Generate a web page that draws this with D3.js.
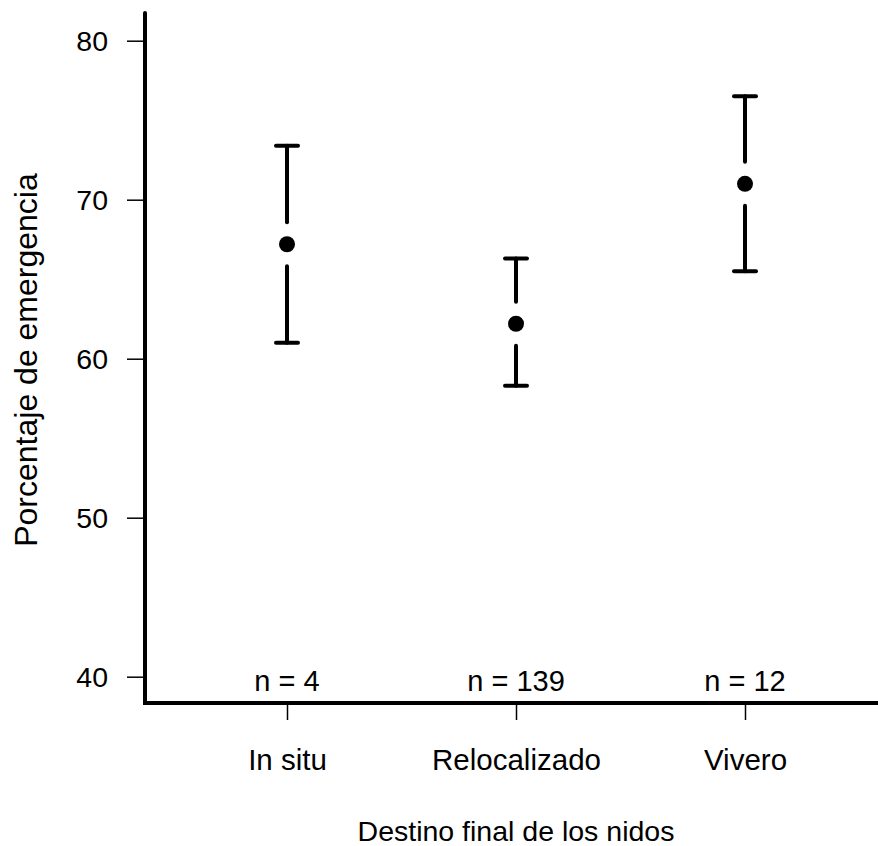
<!DOCTYPE html>
<html>
<head>
<meta charset="utf-8">
<script src="https://cdn.jsdelivr.net/npm/d3@7"></script>
<style>
  html, body { margin: 0; padding: 0; background: #fff; }
  svg text { font-family: "Liberation Sans", Arial, Helvetica, sans-serif; fill: #000; }
</style>
</head>
<body>
<svg id="chart" width="878" height="846"></svg>
<script>
// Emergence percentage by final nest destination: mean with interval
const categories = ["In situ", "Relocalizado", "Vivero"];
const means = [67.2, 62.2, 71.0];
const upper = [73.4, 66.3, 76.5];
const lower = [61.0, 58.3, 65.5];
const sampleSizes = [4, 139, 12];
const yTicks = [40, 50, 60, 70, 80];

const svg = d3.select("#chart");

// Plot frame (left and bottom axis lines)
const frame = { left: 145, right: 878, top: 13, bottom: 703 };

const y = d3.scaleLinear().domain([40, 80]).range([676.7, 40.7]);
const x = d3.scaleLinear().domain([1, 3]).range([287, 745]);
const xi = i => x(i + 1);

// y axis ticks and labels
const yAxis = d3.axisLeft(y).tickValues(yTicks).tickSize(18).tickPadding(19).tickFormat(d3.format("d"));
const gy = svg.append("g").attr("transform", `translate(${frame.left},0)`).call(yAxis);
gy.select(".domain").remove();
gy.selectAll(".tick line").attr("stroke", "#000").attr("stroke-width", 1.5);
gy.selectAll(".tick text")
  .attr("font-size", 28.5)
  .attr("font-family", "Liberation Sans, Arial, sans-serif")
  .attr("fill", "#000")
  .attr("dy", "0.36em");

// x axis ticks and category labels
const xAxis = d3.axisBottom(x).tickValues([1, 2, 3]).tickSize(17).tickPadding(29)
  .tickFormat(d => categories[d - 1]);
const gx = svg.append("g").attr("transform", `translate(0,${frame.bottom})`).call(xAxis);
gx.select(".domain").remove();
gx.selectAll(".tick line").attr("stroke", "#000").attr("stroke-width", 1.5);
gx.selectAll(".tick text")
  .attr("font-size", 29.5)
  .attr("font-family", "Liberation Sans, Arial, sans-serif")
  .attr("fill", "#000");

// L-shaped frame
svg.append("path")
  .attr("d", `M${frame.left},${frame.top}V${frame.bottom}H${frame.right}`)
  .attr("fill", "none")
  .attr("stroke", "#000")
  .attr("stroke-width", 4)
  .attr("stroke-linecap", "round");

// Interval bars with a gap around the mean
const gap = 22, capHalf = 11;
const bars = svg.append("g").attr("stroke", "#000").attr("stroke-width", 4).attr("stroke-linecap", "round").attr("fill", "none");
categories.forEach((c, i) => {
  const cx = xi(i), cy = y(means[i]);
  const yu = y(upper[i]), yl = y(lower[i]);
  bars.append("path").attr("d", `M${cx},${yu}V${cy - gap}`);
  bars.append("path").attr("d", `M${cx},${cy + gap}V${yl}`);
  bars.append("path").attr("d", `M${cx - capHalf},${yu}H${cx + capHalf}`);
  bars.append("path").attr("d", `M${cx - capHalf},${yl}H${cx + capHalf}`);
});

// Means
svg.append("g").selectAll("circle").data(means).join("circle")
  .attr("cx", (d, i) => xi(i))
  .attr("cy", d => y(d))
  .attr("r", 8)
  .attr("fill", "#000");

// Sample sizes above the x axis
svg.append("g").selectAll("text").data(sampleSizes).join("text")
  .attr("x", (d, i) => xi(i))
  .attr("y", 691)
  .attr("text-anchor", "middle")
  .attr("font-size", 29)
  .text(d => `n = ${d}`);

// Axis titles
svg.append("text")
  .attr("x", 516).attr("y", 841)
  .attr("text-anchor", "middle")
  .attr("font-size", 28.5)
  .text("Destino final de los nidos");

svg.append("text")
  .attr("transform", "translate(37,360) rotate(-90)")
  .attr("text-anchor", "middle")
  .attr("font-size", 32)
  .text("Porcentaje de emergencia");
</script>
</body>
</html>
